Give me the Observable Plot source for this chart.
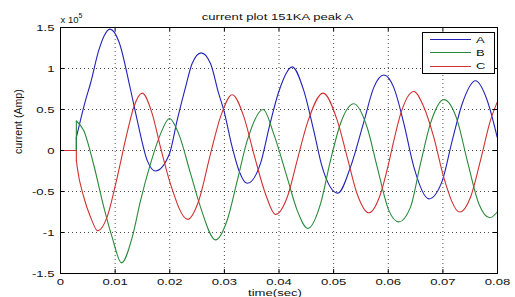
<!DOCTYPE html>
<html>
<head>
<meta charset="utf-8">
<script src="https://cdn.jsdelivr.net/npm/d3@7"></script>
<script src="https://cdn.jsdelivr.net/npm/@observablehq/plot@0.6"></script>
<style>
  html, body { margin: 0; padding: 0; background: #fff; }
  #wrap { position: relative; width: 515px; height: 297px; overflow: hidden; }
  #legend { position: absolute; left: 422px; top: 32px; width: 73px; height: 42px; box-sizing: border-box;
            border: 1px solid #000; background: #fff; font-family: 'Liberation Sans', Arial, sans-serif; font-size: 9.5px; color: #111; }
  .lrow { height: 13.3px; display: flex; align-items: center; }
  .lline { margin-left: 7px; width: 41px; height: 0; border-top: 1px solid; }
  .llab { margin-left: 5px; display: inline-block; transform: scaleX(1.37); transform-origin: left center; line-height: 1; }
</style>
</head>
<body>
<div id="wrap"></div>
<script>
// ---------- data (current in units of 1e5 A, time in s) ----------
const chartTitle = "current plot 151KA peak A";
const xLabel = "time(sec)";
const yLabel = "current (Amp)";
const yExponentBase = "x 10";
const yExponent = "5";

const seriesNames = ["A", "B", "C"];
const seriesColors = ["#2222b8", "#2a8a3a", "#d03232"];

const faultTime = 0.0029;

const tA = [0.0029, 0.00366, 0.00458, 0.0055, 0.0070, 0.0080, 0.00903, 0.01068, 0.0128, 0.01404, 0.01587, 0.01739,
            0.01995, 0.02136, 0.02288, 0.0241, 0.02575, 0.02746, 0.02898, 0.0299, 0.03143, 0.03264, 0.03418,
            0.0366, 0.0383, 0.03997, 0.04241, 0.04454, 0.04637, 0.0479, 0.05077, 0.0531, 0.05553, 0.05736, 0.05919,
            0.061, 0.06285, 0.06468, 0.06743, 0.06988, 0.07171, 0.07354, 0.07597, 0.07812, 0.07995];
const vA = [0.16, 0.37, 0.61, 0.82, 1.22, 1.40, 1.48, 1.33, 0.75, 0.37, -0.12, -0.25,
            -0.04, 0.37, 0.77, 1.06, 1.19, 1.06, 0.69, 0.49, 0.04, -0.24, -0.40,
            -0.16, 0.31, 0.72, 1.02, 0.73, 0.24, -0.20, -0.52, -0.20, 0.35, 0.77, 0.92,
            0.77, 0.33, -0.20, -0.59, -0.37, 0.12, 0.57, 0.85, 0.61, 0.16];

const tB = [0.0029, 0.00427, 0.0061, 0.00793, 0.00946, 0.01117, 0.01312, 0.01465, 0.01648, 0.0183, 0.01995,
            0.02166, 0.0238, 0.02563, 0.02838, 0.03051, 0.03235, 0.03418, 0.0371, 0.03905, 0.0415, 0.04333, 0.04527,
            0.0476, 0.04943, 0.05126, 0.0537, 0.05614, 0.05797, 0.0601, 0.06193, 0.06407, 0.0659, 0.06773, 0.07017,
            0.07262, 0.07445, 0.07658, 0.0786, 0.07995];
const vB = [0.36, 0.24, -0.18, -0.69, -1.06, -1.37, -1.06, -0.61, -0.16, 0.20, 0.39,
            0.20, -0.28, -0.69, -1.09, -0.85, -0.37, 0.12, 0.50, 0.20, -0.33, -0.73, -0.95,
            -0.65, -0.12, 0.33, 0.57, 0.28, -0.20, -0.73, -0.87, -0.69, -0.16, 0.33, 0.62,
            0.37, -0.12, -0.65, -0.82, -0.75];

const tC = [0.0029, 0.00305, 0.00427, 0.00549, 0.00683, 0.00854, 0.01037, 0.01221, 0.01342, 0.01495,
            0.01678, 0.0183, 0.02014, 0.0233, 0.02532, 0.02746, 0.02929, 0.03143, 0.03357, 0.03539, 0.03753, 0.03936,
            0.0415, 0.04333, 0.04517, 0.04809, 0.05065, 0.05248, 0.05431, 0.05644, 0.05858, 0.0601, 0.06102, 0.06224,
            0.06468, 0.06651, 0.06834, 0.07017, 0.0731, 0.07506, 0.07689, 0.07872, 0.07995];
const vC = [-0.12, -0.20, -0.57, -0.81, -0.98, -0.81, -0.33, 0.22, 0.53, 0.70,
            0.45, 0.04, -0.41, -0.84, -0.61, -0.04, 0.41, 0.68, 0.41, -0.04, -0.53, -0.78,
            -0.57, -0.12, 0.33, 0.70, 0.37, -0.08, -0.53, -0.76, -0.53, -0.15, 0.12, 0.44,
            0.72, 0.53, 0.16, -0.33, -0.75, -0.57, -0.12, 0.37, 0.59];

const xTicks = [0, 0.01, 0.02, 0.03, 0.04, 0.05, 0.06, 0.07, 0.08];
const xTickLabels = ["0", "0.01", "0.02", "0.03", "0.04", "0.05", "0.06", "0.07", "0.08"];
const yTicks = [-1.5, -1, -0.5, 0, 0.5, 1, 1.5];
const yTickLabels = ["-1.5", "-1", "-0.5", "0", "0.5", "1", "1.5"];

// ---------- build ----------
const W = 515, H = 297, mL = 60, mR = 18, mT = 27, mB = 24;
const innerW = W - mL - mR, innerH = H - mT - mB;
const tickLen = 4;
const textStretch = 1.38;

const xFmt = new Map(xTicks.map((d, i) => [d, xTickLabels[i]]));
const yFmt = new Map(yTicks.map((d, i) => [d, yTickLabels[i]]));

const seriesT = [tA, tB, tC], seriesV = [vA, vB, vC];
const post = seriesNames.map((s, k) => seriesT[k].map((t, i) => ({t, v: seriesV[k][i]})));
const pre = seriesNames.map((s, k) => [
  {t: 0, v: 0}, {t: faultTime, v: 0}, {t: faultTime, v: seriesV[k][0]}
]);

const lineMarks = [];
seriesNames.forEach((s, k) => {
  lineMarks.push(Plot.line(pre[k], {x: "t", y: "v", stroke: seriesColors[k], strokeWidth: 1.1}));
  lineMarks.push(Plot.line(post[k], {x: "t", y: "v", stroke: seriesColors[k], strokeWidth: 1.1, curve: "monotone-x"}));
});

const gridStyle = {stroke: "#000", strokeOpacity: 0.7, strokeDasharray: "1,3"};

const svg = Plot.plot({
  width: W, height: H,
  marginLeft: mL, marginRight: mR, marginTop: mT, marginBottom: mB,
  style: {fontFamily: "'Liberation Sans', Arial, sans-serif", fontSize: "9.5px", background: "#fff", color: "#111", overflow: "visible"},
  x: {domain: [0, 0.08], label: null},
  y: {domain: [-1.5, 1.5], label: null},
  marks: [
    Plot.ruleX(xTicks, {x: d => d, ...gridStyle}),
    Plot.ruleY(yTicks, {y: d => d, ...gridStyle}),
    ...lineMarks,
    Plot.tickX(xTicks, {x: d => d, stroke: "#000", insetTop: innerH - tickLen}),
    Plot.tickX(xTicks, {x: d => d, stroke: "#000", insetBottom: innerH - tickLen}),
    Plot.tickY(yTicks, {y: d => d, stroke: "#000", insetRight: innerW - tickLen}),
    Plot.tickY(yTicks, {y: d => d, stroke: "#000", insetLeft: innerW - tickLen}),
    Plot.axisX({ticks: xTicks, tickSize: 0, tickPadding: 5, tickFormat: d => xFmt.get(d), label: null}),
    Plot.axisY({ticks: yTicks, tickSize: 0, tickPadding: 6, tickFormat: d => yFmt.get(d), label: null}),
    Plot.frame({stroke: "#000"}),
    Plot.text([chartTitle], {text: d => d, frameAnchor: "top", lineAnchor: "bottom", dy: -8, dx: -1.5, fontSize: 9.5}),
    Plot.text([xLabel], {text: d => d, frameAnchor: "bottom", lineAnchor: "bottom", dy: 22, dx: -4, fontSize: 9.5}),
    Plot.text([yLabel], {text: d => d, frameAnchor: "left", lineAnchor: "bottom", rotate: -90, dx: -39, dy: 3.5, fontSize: 10.6}),
    Plot.text([yExponentBase], {text: d => d, frameAnchor: "top-left", textAnchor: "start", lineAnchor: "bottom", dy: -5, dx: 0, fontSize: 9.5}),
    Plot.text([yExponent], {text: d => d, frameAnchor: "top-left", textAnchor: "start", lineAnchor: "bottom", dy: -10, dx: 18, fontSize: 7})
  ]
});

// stretch horizontal texts to match the reference's wide lettering
const stretchSet = new Set([...xTickLabels, ...yTickLabels, chartTitle, xLabel]);
d3.select(svg).selectAll("text")
  .filter(function () { return stretchSet.has(this.textContent); })
  .each(function () {
    const tr = this.getAttribute("transform");
    if (tr) this.setAttribute("transform", tr + ` scale(${textStretch},1)`);
    else {
      const x = +this.getAttribute("x") || 0, y = +this.getAttribute("y") || 0;
      this.setAttribute("transform", `translate(${x},${y}) scale(${textStretch},1) translate(${-x},${-y})`);
    }
  });

const wrap = document.getElementById("wrap");
wrap.appendChild(svg);

// legend
const legend = d3.select(wrap).append("div").attr("id", "legend");
seriesNames.forEach((s, k) => {
  const row = legend.append("div").attr("class", "lrow");
  row.append("span").attr("class", "lline").style("border-top-color", seriesColors[k]);
  row.append("span").attr("class", "llab").text(s);
});
</script>
</body>
</html>
